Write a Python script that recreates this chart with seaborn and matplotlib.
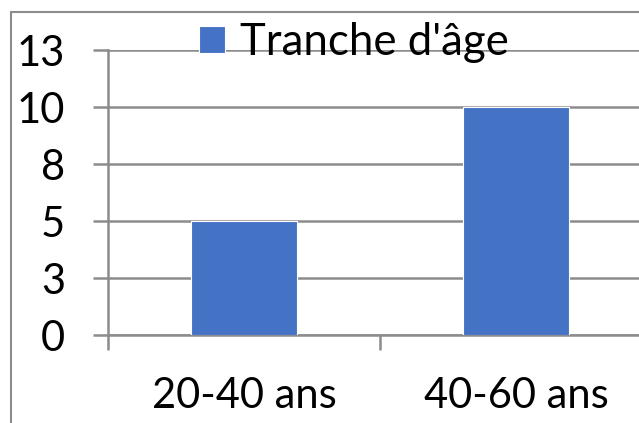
import matplotlib
matplotlib.use("Agg")
import matplotlib.pyplot as plt
import seaborn as sns
from matplotlib.patches import Rectangle

categories = ["20-40 ans", "40-60 ans"]
values = [5, 10]
y_ticks = [0, 2.5, 5, 7.5, 10, 12.5]
y_tick_labels = ["0", "3", "5", "8", "10", "13"]
series_name = "Tranche d'âge"

sns.set_style("white")
plt.rcParams["font.family"] = ["Lato", "DejaVu Sans"]

grey = "#8c8c8c"
blue = "#4472C4"

fig = plt.figure(figsize=(6.39, 4.23), dpi=100)
W, H = 639, 423
# plot area runs past the right edge, like the cropped original
ax = fig.add_axes([108 / W, (H - 335) / H, (652 - 108) / W, (335 - 50) / H])

sns.barplot(x=categories, y=values, color=blue, width=0.39, saturation=1,
            edgecolor="white", linewidth=0.8, ax=ax, zorder=3)

ax.set_ylim(0, 12.5)
ax.set_xlim(-0.5, 1.5)
ax.set_yticks(y_ticks)
ax.set_yticklabels(y_tick_labels)
ax.yaxis.grid(True, color=grey, linewidth=1.8, zorder=0)
ax.set_axisbelow(True)

for side in ["top", "right"]:
    ax.spines[side].set_visible(False)
for side in ["left", "bottom"]:
    ax.spines[side].set_color(grey)
    ax.spines[side].set_linewidth(1.8)

ax.tick_params(axis="y", left=True, length=11, width=1.8, color=grey,
               labelsize=30, pad=20, labelcolor="black")
ax.tick_params(axis="x", which="major", length=0, labelsize=30, pad=30,
               labelcolor="black")
ax.set_xticks([-0.5, 0.5, 1.5], minor=True)
ax.tick_params(axis="x", which="minor", bottom=True, length=11, width=1.8,
               color=grey)
ax.set_xlabel("")
ax.set_ylabel("")

# legend, drawn over the top gridline
handle = Rectangle((0, 0), 1, 1, facecolor=blue, edgecolor="white", linewidth=0.8)
leg = fig.legend([handle], [series_name], loc="upper left",
                 bbox_to_anchor=(199 / W, 1 - 22 / H), frameon=False,
                 fontsize=31.5, handlelength=0.6, handleheight=0.6,
                 handletextpad=0.33, borderpad=0, borderaxespad=0)
for t in leg.get_texts():
    t.set_color("black")

# chart border (cropped on the right and bottom)
fig.patches.append(Rectangle((11 / W, -0.1), 1.2, 1.1 - 12 / H, fill=False,
                             edgecolor=grey, linewidth=1.5,
                             transform=fig.transFigure))

fig.savefig("out.png", dpi=100)
